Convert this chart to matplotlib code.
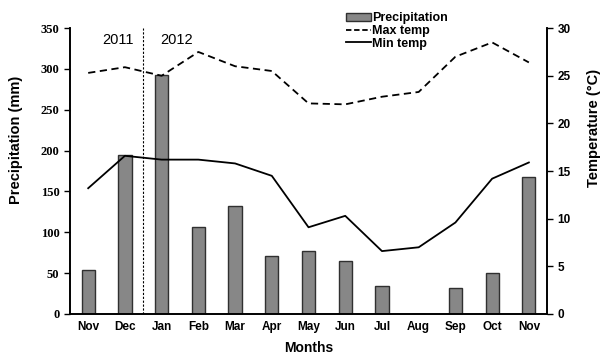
import numpy as np
from matplotlib import pyplot as plt
from matplotlib.patches import Patch
from matplotlib.lines import Line2D

# Du lieu
months = ['Nov', 'Dec', 'Jan', 'Feb', 'Mar', 'Apr', 'May', 'Jun', 'Jul', 'Aug', 'Sep', 'Oct', 'Nov']
precip = [54, 195, 293, 107, 132, 71, 77, 65, 34, 0, 32, 50, 168]
max_temp = [25.3, 25.9, 25.0, 27.5, 26.0, 25.5, 22.1, 22.0, 22.8, 23.3, 27.0, 28.5, 26.4]
min_temp = [13.2, 16.6, 16.2, 16.2, 15.8, 14.5, 9.1, 10.3, 6.6, 7.0, 9.6, 14.2, 15.9]
left_ticks = [0, 50, 100, 150, 200, 250, 300, 350]
right_ticks = [0, 5, 10, 15, 20, 25, 30]

x = np.arange(len(months))

fig = plt.figure(figsize=(6.02, 3.56), dpi=100)
ax = fig.add_axes([0.116, 0.118, 0.793, 0.803])
ax2 = ax.twinx()

ax.bar(x, precip, width=0.36, color='#878787', edgecolor='#303030', linewidth=1.0, zorder=2)
ax2.plot(x, max_temp, linestyle=(0, (4, 2.5)), color='black', linewidth=1.3)
ax2.plot(x, min_temp, linestyle='-', color='black', linewidth=1.3)

ax.set_xlim(-0.5, 12.5)
ax.set_ylim(0, 350)
ax2.set_ylim(0, 30)
ax.set_xticks(x)
ax.set_xticklabels(months, fontsize=8.5, fontweight='bold', family='Liberation Sans')
ax.tick_params(axis='x', length=0, pad=5)
ax.set_yticks(left_ticks)
ax.set_yticklabels([str(t) for t in left_ticks], fontsize=9, fontweight='bold', family='Liberation Serif')
ax.tick_params(axis='y', direction='out', length=4, width=1)
ax2.set_yticks(right_ticks)
ax2.set_yticklabels([str(t) for t in right_ticks], fontsize=8.5, fontweight='bold', family='Liberation Sans')
ax2.tick_params(axis='y', direction='out', length=4, width=1)

for a in (ax, ax2):
    a.spines['top'].set_visible(False)
    for s in ('left', 'right', 'bottom'):
        a.spines[s].set_linewidth(1.2)

ax.axvline(1.5, color='black', linestyle=(0, (2, 1.5)), linewidth=0.8)
ax.text(0.8, 336, '2011', ha='center', va='center', fontsize=10.5, family='Liberation Sans')
ax.text(2.4, 336, '2012', ha='center', va='center', fontsize=10.5, family='Liberation Sans')

ax.set_xlabel('Months', fontsize=10, fontweight='bold', family='Liberation Sans', labelpad=6)
ax.set_ylabel('Precipitation (mm)', fontsize=10.5, fontweight='bold', family='Liberation Sans')
ax.yaxis.set_label_coords(-0.098, 0.61)
ax2.set_ylabel('Temperature (°C)', fontsize=10.5, fontweight='bold', family='Liberation Sans')
ax2.yaxis.set_label_coords(1.083, 0.65)

handles = [Patch(facecolor='#878787', edgecolor='#303030'),
           Line2D([0], [0], color='black', linestyle=(0, (3, 1.5)), linewidth=1.3),
           Line2D([0], [0], color='black', linewidth=1.3)]
fig.legend(handles, ['Precipitation', 'Max temp', 'Min temp'], loc='upper left',
           bbox_to_anchor=(0.56, 0.99), frameon=False, handlelength=2.0, handletextpad=0.1,
           labelspacing=0.05, borderpad=0.2,
           prop={'family': 'Liberation Sans', 'weight': 'bold', 'size': 9})

fig.savefig('out.png', dpi=100)
